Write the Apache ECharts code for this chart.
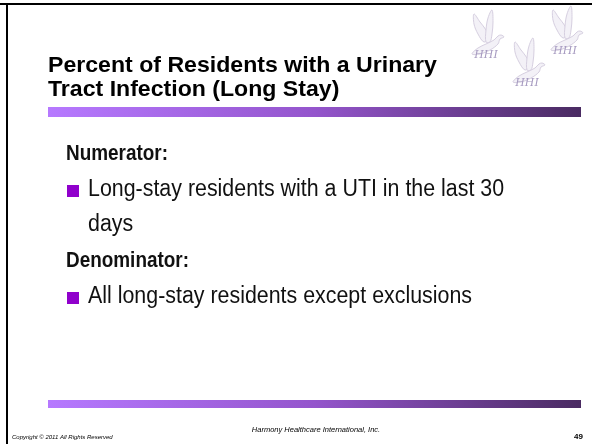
<!DOCTYPE html>
<html><head><meta charset="utf-8">
<script src="https://cdn.jsdelivr.net/npm/echarts@6/dist/echarts.min.js"></script>
<style>html,body{margin:0;padding:0;background:#fff}#c{width:592px;height:444px}</style>
</head><body><div id="c"></div>
<script>
var titleLines = ['Percent of Residents with a Urinary', 'Tract Infection (Long Stay)'];
var headings = ['Numerator:', 'Denominator:'];
var bullets = [['Long-stay residents with a UTI in the last 30', 'days'], ['All long-stay residents except exclusions']];
var footerLeft = 'Copyright \u00a9 2011 All Rights Reserved';
var footerCenter = 'Harmony Healthcare International, Inc.';
var pageNumber = '49';
var logoLabels = ['HHI', 'HHI', 'HHI'];

var chart = echarts.init(document.getElementById('c'), null, {renderer: 'canvas'});
function grad() {
  return new echarts.graphic.LinearGradient(0, 0, 1, 0, [
    {offset: 0, color: '#b679ff'}, {offset: 0.5, color: '#9455cc'}, {offset: 1, color: '#4a2b62'}]);
}
var sans = '"Liberation Sans",Arial,sans-serif';
var g = [];
// slide border (top + left)
g.push({type: 'rect', shape: {x: 0, y: 3, width: 592, height: 2}, style: {fill: '#000'}});
g.push({type: 'rect', shape: {x: 6, y: 3, width: 2, height: 441}, style: {fill: '#000'}});
// title
titleLines.forEach(function (t, i) {
  g.push({type: 'text', x: 48, y: 66 + i * 24, scaleX: 1.05, style: {text: t, font: 'bold 22px ' + sans, fill: '#000', textVerticalAlign: 'middle'}});
});
// bars
g.push({type: 'rect', shape: {x: 48, y: 107, width: 533, height: 10}, style: {fill: grad()}});
g.push({type: 'rect', shape: {x: 48, y: 400, width: 533, height: 8}, style: {fill: grad()}});
// body
var rows = [
  {kind: 'h', text: headings[0], y: 154},
  {kind: 'b', text: bullets[0][0], y: 190},
  {kind: 'c', text: bullets[0][1], y: 225},
  {kind: 'h', text: headings[1], y: 261},
  {kind: 'b', text: bullets[1][0], y: 297}
];
rows.forEach(function (r) {
  if (r.kind === 'h') {
    g.push({type: 'text', x: 66, y: r.y, scaleX: 0.86, style: {text: r.text, font: 'bold 22px ' + sans, fill: '#111', textVerticalAlign: 'middle'}});
  } else {
    if (r.kind === 'b') g.push({type: 'rect', shape: {x: 67, y: r.y - 5, width: 12, height: 12}, style: {fill: '#9000cc'}});
    g.push({type: 'text', x: 88, y: r.y, scaleX: 0.93, style: {text: r.text, font: '23px ' + sans, fill: '#111', textVerticalAlign: 'middle'}});
  }
});
// footer
g.push({type: 'text', x: 12, y: 437, style: {text: footerLeft, font: 'italic 6px ' + sans, fill: '#000', textVerticalAlign: 'middle'}});
g.push({type: 'text', x: 316, y: 430, style: {text: footerCenter, font: 'italic 7.5px ' + sans, fill: '#000', textAlign: 'center', textVerticalAlign: 'middle'}});
g.push({type: 'text', x: 583, y: 437, style: {text: pageNumber, font: 'bold 8px ' + sans, fill: '#000', textAlign: 'right', textVerticalAlign: 'middle'}});
// logo: three doves with HHI labels
var doves = [[486, 40], [565, 36], [527, 68]];
var wingBack = [[-2, 2], [-8, -6], [-12, -16], [-12, -26], [-6, -18], [0, -10], [3, -2]];
var wingFront = [[0, 2], [0, -10], [2, -22], [6, -30], [7, -18], [6, -6], [4, 2]];
var body = [[-14, 14], [-8, 8], [0, 4], [8, 0], [12, -4], [15, -5], [18, -3], [14, -1], [12, 4], [4, 10], [-6, 14]];
doves.forEach(function (d, i) {
  [wingBack, wingFront, body].forEach(function (shape) {
    var pts = shape.map(function (p) { return [d[0] + p[0], d[1] + p[1]]; });
    g.push({type: 'polygon', shape: {points: pts, smooth: 0.35}, style: {fill: '#f3f1f7', stroke: '#d6cfe0', lineWidth: 1}});
  });
  g.push({type: 'text', x: d[0], y: d[1] + 15, style: {text: logoLabels[i], font: 'italic 11px "DejaVu Serif",serif', fill: '#a69ac0', textAlign: 'center', textVerticalAlign: 'middle'}});
});
chart.setOption({backgroundColor: '#fff', graphic: {elements: g}});
</script>
</body></html>
